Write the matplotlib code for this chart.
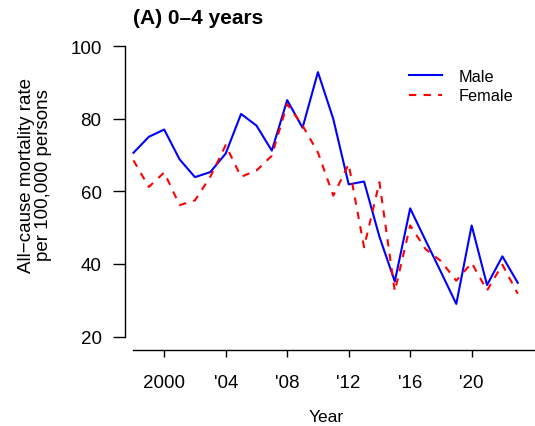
import matplotlib
matplotlib.use("Agg")
import matplotlib.pyplot as plt

plt.rcParams["font.family"] = ["Liberation Sans", "DejaVu Sans"]

# ---- data -----------------------------------------------------------------
years = list(range(1998, 2024))
male = [70.6, 75.0, 77.0, 68.8, 63.9, 65.3, 70.4, 81.3, 78.1, 71.2, 85.1, 77.5,
        92.8, 79.9, 61.9, 62.7, 47.5, 35.2, 55.3, 46.5, 37.8, 29.0, 50.6, 34.2,
        42.1, 34.8]
female = [68.5, 61.2, 65.2, 56.2, 57.5, 64.0, 72.7, 64.0, 65.7, 69.8, 84.0, 78.1,
          70.7, 58.8, 67.5, 44.6, 62.5, 32.5, 50.6, 44.1, 40.8, 35.4, 40.3, 32.7,
          39.8, 31.8]
xticks = [2000, 2004, 2008, 2012, 2016, 2020]
xticklabels = ["2000", "'04", "'08", "'12", "'16", "'20"]
yticks = [20, 40, 60, 80, 100]

W, H = 535, 427
fig = plt.figure(figsize=(W / 100, H / 100), dpi=100)
ax = fig.add_axes([125 / W, 1 - 350.7 / H, 1 - 125 / W, (350.7 - 47) / H])

ax.plot(years, male, color="#0000FF", lw=1.5, label="Male", clip_on=False)
ax.plot(years, female, color="#FF0000", lw=1.5, ls=(0, (3.5, 3.5)),
        label="Female", clip_on=False)

ax.set_xlim(1997.45, 2024.12)
ax.set_ylim(16.4, 100)

for s in ["top", "right"]:
    ax.spines[s].set_visible(False)
ax.spines["left"].set_bounds(20, 100)
ax.spines["bottom"].set_bounds(1998, 2024.12)
for s in ["left", "bottom"]:
    ax.spines[s].set_linewidth(1.0)

ax.set_xticks(xticks)
ax.set_xticklabels(xticklabels, fontsize=13.5)
ax.set_yticks(yticks)
ax.set_yticklabels([str(v) for v in yticks], fontsize=13.5)
ax.tick_params(axis="y", length=8.4, width=1.0, pad=8.5)
ax.tick_params(axis="x", length=4.7, width=1.0, pad=12.5)

fig.text(326 / W, 1 - 418 / H, "Year", ha="center", va="center", fontsize=12.5)
fig.text(35 / W, 1 - 175.5 / H,
         "All\u2212cause mortality rate\nper 100,000 persons",
         ha="center", va="center", rotation=90, fontsize=13.5,
         linespacing=1.0, multialignment="center")
fig.text(133 / W, 1 - 18 / H, "(A) 0\u20134 years", ha="left", va="center",
         fontsize=15, fontweight="bold")

ax.legend(loc="upper left", bbox_to_anchor=(409 / W, 1 - 69.5 / H),
          bbox_transform=fig.transFigure, frameon=False, fontsize=11.7,
          handlelength=2.0, handletextpad=1.05, labelspacing=0.3,
          borderpad=0, borderaxespad=0)

fig.savefig("out.png", dpi=100)
